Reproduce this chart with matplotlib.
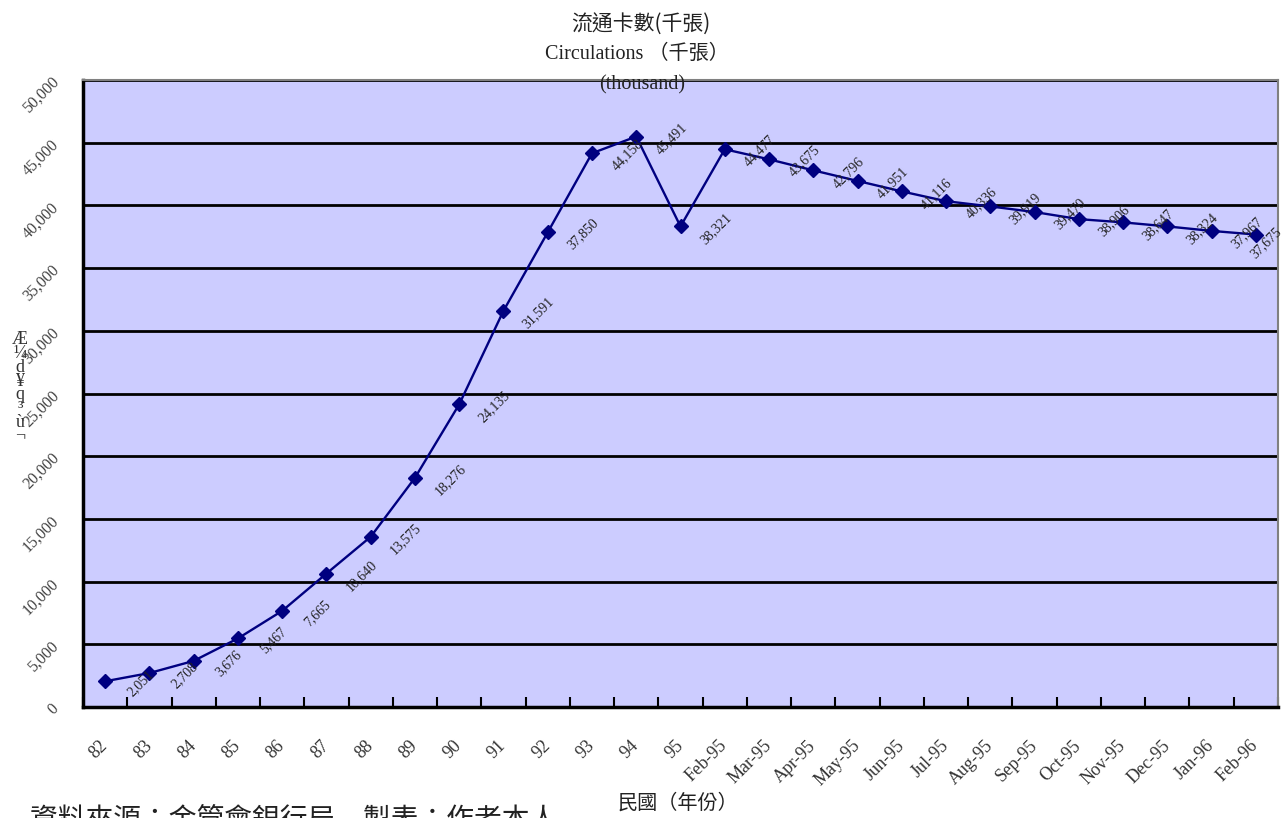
import matplotlib
matplotlib.use('Agg')
import matplotlib.pyplot as plt
import numpy as np

# circulating cards, thousands
categories = ['82', '83', '84', '85', '86', '87', '88', '89', '90', '91', '92', '93', '94', '95',
              'Feb-95', 'Mar-95', 'Apr-95', 'May-95', 'Jun-95', 'Jul-95', 'Aug-95', 'Sep-95',
              'Oct-95', 'Nov-95', 'Dec-95', 'Jan-96', 'Feb-96']
circulations = [2051, 2708, 3676, 5467, 7665, 10640, 13575, 18276, 24135, 31591, 37850, 44158,
                45491, 38321, 44477, 43675, 42796, 41951, 41116, 40336, 39919, 39470, 38906,
                38647, 38324, 37967, 37675]
yticks = np.arange(0, 50001, 5000)

serif = ['Liberation Serif', 'Noto Sans CJK TC']
cjk = ['Noto Sans CJK TC', 'Liberation Serif']
plt.rcParams['font.family'] = serif

fig = plt.figure(figsize=(12.88, 8.18), dpi=100)
ax = fig.add_axes([83/1288, 1 - 707/818, (1278 - 83)/1288, (707 - 80)/818])
ax.set_facecolor('#CCCCFF')

x = np.arange(len(categories))
ax.plot(x, circulations, color='#000080', lw=1.7, marker='D', ms=7.5, zorder=4)

for xi, v in zip(x, circulations):
    # last label pulled back inside the plot area
    off = (35, -2) if xi < len(categories) - 1 else (10, -8)
    ax.annotate(f'{v:,}', (xi, v), xytext=off, textcoords='offset pixels',
                ha='center', va='center', rotation=45, fontsize=10, color='#222222',
                zorder=5)

ax.set_xlim(-0.5, len(categories) - 0.5)
ax.set_ylim(0, 50000)
ax.set_yticks(yticks)
ax.set_yticklabels([f'{t:,}' for t in yticks], rotation=45, fontsize=11.5, color='#444444')
ax.tick_params(axis='y', length=0, pad=15)
ax.yaxis.grid(True, color='black', lw=2.0)
ax.set_axisbelow(True)

# labels centred on categories, tick marks on the boundaries
ax.set_xticks(x)
ax.set_xticklabels(categories, rotation=45, fontsize=13, color='#333333',
                   ha='right', va='center', rotation_mode='anchor')
ax.tick_params(axis='x', which='major', length=0, pad=26)
ax.set_xticks(np.arange(-0.5, len(categories) + 0.5, 1.0), minor=True)
ax.tick_params(axis='x', which='minor', direction='in', length=7, width=1.5, color='black')

for side in ['left', 'bottom']:
    ax.spines[side].set_linewidth(2.5)
    ax.spines[side].set_color('black')
for side in ['top', 'right']:
    ax.spines[side].set_linewidth(1.5)
    ax.spines[side].set_color('#808080')

fig.text(641/1288, 1 - 25/818, '流通卡數(千張)', ha='center', va='center', fontsize=15, family=cjk,
         color='#222222')
fig.text(637/1288, 1 - 54/818, 'Circulations （千張）', ha='center', va='center', fontsize=14.5,
         family=serif, color='#222222')
fig.text(642/1288, 1 - 85/818, '(thousand)', ha='center', va='center', fontsize=14.5,
         family=serif, color='#222222')

fig.text(678/1288, 1 - 803/818, '民國（年份）', ha='center', va='center', fontsize=14.5, family=cjk,
         color='#222222')
fig.text(30/1288, 1 - 804/818, '資料來源：金管會銀行局　製表：作者本人', ha='left', va='top',
         fontsize=20, family=cjk, color='#222222')

fig.text(20/1288, 1 - 388/818, 'Æ\n¼\nd\n¥\nq\n³\nù\n¬', ha='center', va='center',
         fontsize=13, linespacing=0.75, color='#333333')

fig.savefig('out.png', dpi=100)
